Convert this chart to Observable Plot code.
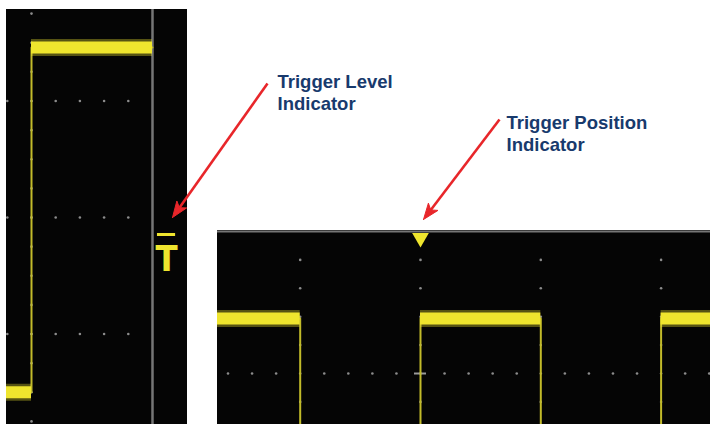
<!DOCTYPE html>
<html>
<head>
<meta charset="utf-8">
<script src="https://cdn.jsdelivr.net/npm/d3@7"></script>
<script src="https://cdn.jsdelivr.net/npm/@observablehq/plot@0.6"></script>
<style>
  html, body { margin: 0; padding: 0; background: #ffffff; }
  #fig { position: relative; width: 710px; height: 424px; overflow: hidden; background: #ffffff; }
  #fig > svg { position: absolute; overflow: hidden; }
</style>
</head>
<body>
<div id="fig"></div>
<script>
// ---------- Screen A (left): trigger level view, values in divisions ----------
const traceA_t = [3.79, 4.0, 4.0, 5.0];
const traceA_v = [-1.50, -1.50, 1.46, 1.46];
const borderA_t = [5.0];
const gridRowsA_v = [-1, 0, 1];
const gridColsA_t = [4.0];
const trigLevelA_t = [5.116];
const trigLevelA_v = [-0.146];
const trigLevelA_label = ["T"];

// ---------- Screen B (right): trigger position view, values in divisions ----------
const traceB_t = [-1.69, -1.0, -1.0, 0.0, 0.0, 1.0, 1.0, 2.0, 2.0, 2.42];
const traceB_v = [0.387, 0.387, -0.6, -0.6, 0.387, 0.387, -0.6, -0.6, 0.387, 0.387];
const borderB_v = [1.0];
const gridRowsB_v = [0];
const gridColsB_t = [-1, 0, 1, 2];
const trigPosB_t = [0];
const trigPosB_v = [0.955];

// ---------- Annotations ----------
const labels = ["Trigger Level\nIndicator", "Trigger Position\nIndicator"];
const labelX = [277, 506];
const labelY = [72, 113];
const arrowFrom = [[267, 83], [499, 119]];
const arrowTo = [[172, 217], [423, 219]];

// ---------- colours ----------
const TRACE = "#efe52e", EDGE = "#c2bb2a", GRID = "#8c8c8c", BORDER = "#767676";
const SCREEN = "#050505", RED = "#e8262a", NAVY = "#183a6d";

function points(ts, vs) { return ts.map((t, i) => ({t, v: vs[i]})); }
function levels(ts, vs) {
  const out = [];
  for (let i = 0; i < ts.length - 1; i++) if (vs[i] === vs[i + 1]) out.push({t1: ts[i], t2: ts[i + 1], v: vs[i]});
  return out;
}

const fig = document.getElementById("fig");

// ---------- Screen A ----------
const trA = points(traceA_t, traceA_v);
const lvA = levels(traceA_t, traceA_v);
const gridA = [];
for (const v of gridRowsA_v) for (const t of d3.range(3.8, 4.81, 0.2)) gridA.push({t, v});
for (const t of gridColsA_t) for (const v of d3.range(-1.75, 1.76, 0.25)) gridA.push({t, v});
const tlA = trigLevelA_t.map((t, i) => ({t, v: trigLevelA_v[i], label: trigLevelA_label[i]}));

const plotA = Plot.plot({
  width: 181, height: 415, margin: 0,
  x: {domain: [3.7934, 5.2893], axis: null},
  y: {domain: [-1.7768, 1.7854], axis: null},
  style: {background: SCREEN, overflow: "hidden"},
  marks: [
    Plot.dot(gridA, {x: "t", y: "v", r: 1.3, fill: GRID}),
    Plot.ruleX(borderA_t, {stroke: BORDER, strokeWidth: 2.5}),
    Plot.line(trA, {x: "t", y: "v", stroke: EDGE, strokeWidth: 2, curve: "linear", clip: true}),
    Plot.ruleY(lvA, {y: "v", x1: "t1", x2: "t2", stroke: TRACE, strokeWidth: 17, strokeOpacity: 0.35, clip: true}),
    Plot.ruleY(lvA, {y: "v", x1: "t1", x2: "t2", stroke: TRACE, strokeWidth: 12, clip: true}),
    Plot.ruleY(tlA, {y: "v", x1: d => d.t - 0.075, x2: d => d.t + 0.075, stroke: TRACE, strokeWidth: 3}),
    Plot.text(tlA, {x: "t", y: d => d.v - 0.09, text: "label", lineAnchor: "top", fill: TRACE,
      fontSize: 36, fontWeight: "bold",
      fontFamily: "'Liberation Sans Narrow', 'DejaVu Sans Condensed', 'Liberation Sans', sans-serif"})
  ]
});
plotA.style.left = "6px"; plotA.style.top = "9px";
fig.appendChild(plotA);

// ---------- Screen B ----------
const trB = points(traceB_t, traceB_v);
const lvB = levels(traceB_t, traceB_v);
const gridB = [];
for (const v of gridRowsB_v) for (const t of d3.range(-1.6, 2.41, 0.2)) gridB.push({t, v});
for (const t of gridColsB_t) for (const v of [-0.2, 0.2, 0.4, 0.6, 0.8]) gridB.push({t, v});
const tpB = trigPosB_t.map((t, i) => ({t, v: trigPosB_v[i]}));

const plotB = Plot.plot({
  width: 493, height: 194, margin: 0,
  x: {domain: [-1.6874, 2.4106], axis: null},
  y: {domain: [-0.35915, 1.00704], axis: null},
  style: {background: SCREEN, overflow: "hidden"},
  marks: [
    Plot.dot(gridB, {x: "t", y: "v", r: 1.3, fill: GRID}),
    Plot.ruleY([0], {x1: -0.05, x2: 0.05, stroke: "#9a9a9a", strokeWidth: 2}),
    Plot.ruleY(borderB_v, {stroke: BORDER, strokeWidth: 2}),
    Plot.line(trB, {x: "t", y: "v", stroke: EDGE, strokeWidth: 2, clip: true}),
    Plot.ruleY(lvB, {y: "v", x1: "t1", x2: "t2", stroke: TRACE, strokeWidth: 17, strokeOpacity: 0.35, clip: true}),
    Plot.ruleY(lvB, {y: "v", x1: "t1", x2: "t2", stroke: TRACE, strokeWidth: 12, clip: true}),
    Plot.dot(tpB, {x: "t", y: "v", symbol: "triangle", r: 6.2, rotate: 180, fill: TRACE, stroke: "none"})
  ]
});
plotB.style.left = "217px"; plotB.style.top = "230px";
fig.appendChild(plotB);

// ---------- Annotation layer ----------
const labelData = labels.map((text, i) => ({text, x: labelX[i], y: labelY[i]}));
const arrows = arrowFrom.map((f, i) => ({x1: f[0], y1: f[1], x2: arrowTo[i][0], y2: arrowTo[i][1], id: i}));
const HEAD_L = 16, HEAD_W = 12, NOTCH = 4;
const heads = [], shafts = [];
for (const a of arrows) {
  const dx = a.x2 - a.x1, dy = a.y2 - a.y1, len = Math.hypot(dx, dy);
  const ux = dx / len, uy = dy / len, nx = -uy, ny = ux;
  const bx = a.x2 - HEAD_L * ux, by = a.y2 - HEAD_L * uy;
  const mx = a.x2 - (HEAD_L - NOTCH) * ux, my = a.y2 - (HEAD_L - NOTCH) * uy;
  heads.push({x: a.x2, y: a.y2, id: a.id},
             {x: bx + nx * HEAD_W / 2, y: by + ny * HEAD_W / 2, id: a.id},
             {x: mx, y: my, id: a.id},
             {x: bx - nx * HEAD_W / 2, y: by - ny * HEAD_W / 2, id: a.id},
             {x: a.x2, y: a.y2, id: a.id});
  shafts.push({x1: a.x1, y1: a.y1, x2: mx, y2: my});
}

const plotN = Plot.plot({
  width: 710, height: 424, margin: 0,
  x: {domain: [0, 710], range: [0, 710], axis: null},
  y: {domain: [0, 424], range: [0, 424], axis: null},
  style: {background: "transparent", overflow: "visible"},
  marks: [
    Plot.link(shafts, {x1: "x1", y1: "y1", x2: "x2", y2: "y2", stroke: RED, strokeWidth: 2.6}),
    Plot.line(heads, {x: "x", y: "y", z: "id", fill: RED, stroke: RED, strokeWidth: 1, curve: "linear"}),
    Plot.text(labelData, {x: "x", y: "y", text: "text", textAnchor: "start", lineAnchor: "top",
      lineHeight: 1.2, fontSize: 18.5, fontWeight: "bold", fill: NAVY,
      fontFamily: "'Liberation Sans', Arial, Helvetica, sans-serif"})
  ]
});
plotN.style.left = "0px"; plotN.style.top = "0px";
fig.appendChild(plotN);
</script>
</body>
</html>
